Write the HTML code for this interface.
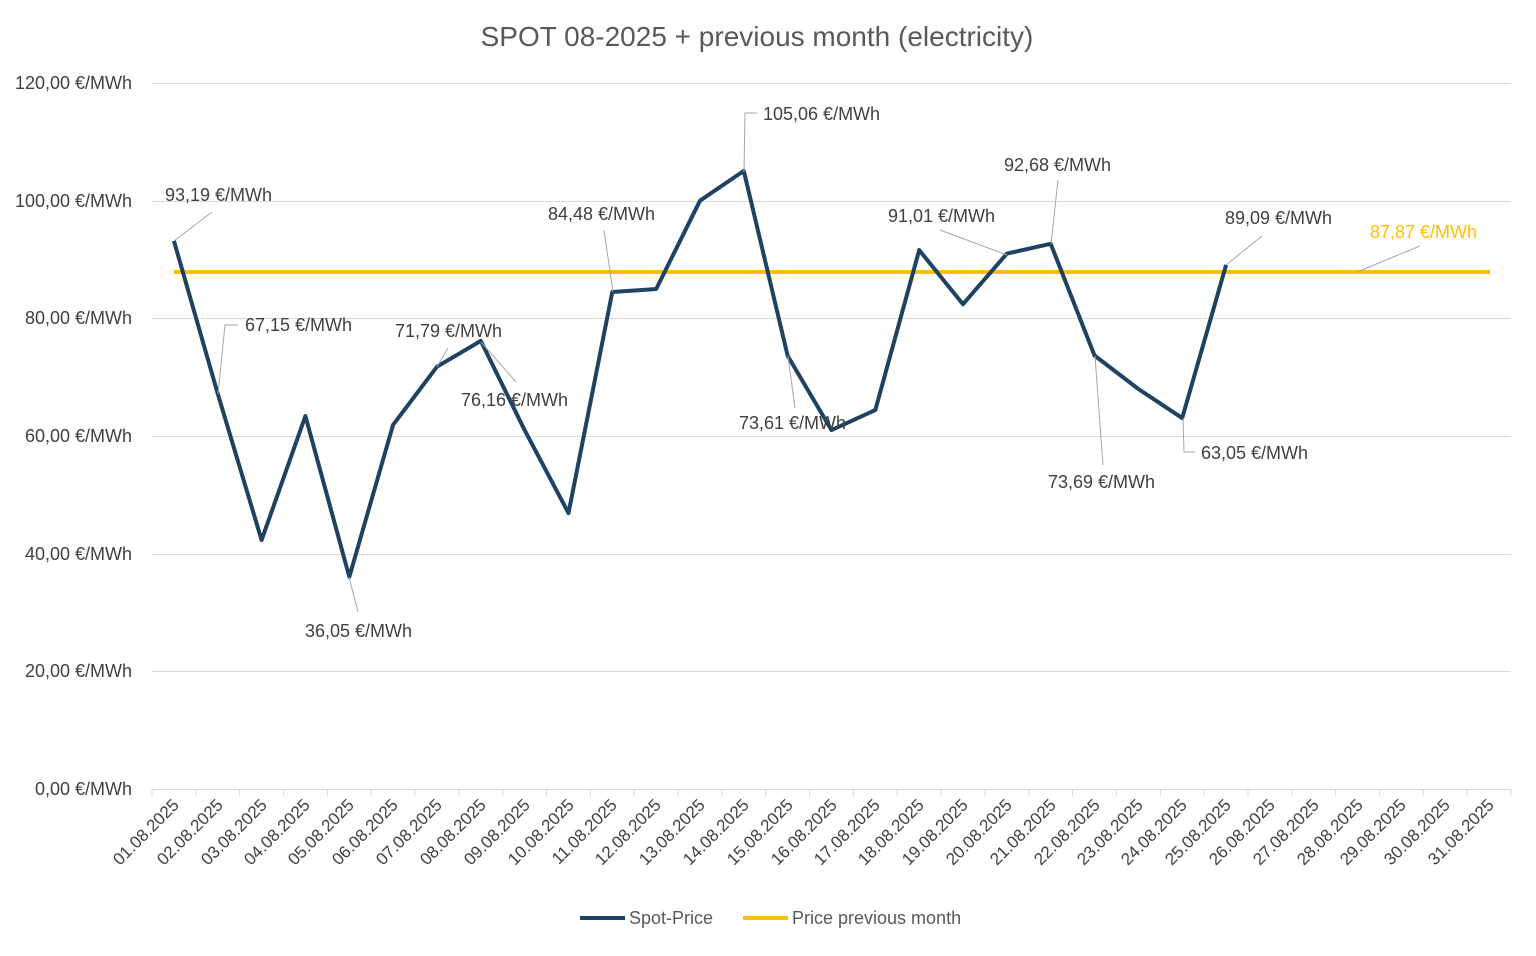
<!DOCTYPE html>
<html><head><meta charset="utf-8"><style>
body{margin:0;background:#fff;}
text{font-family:"Liberation Sans",sans-serif;fill:#404040;}
</style></head><body>
<svg width="1536" height="951" viewBox="0 0 1536 951" xmlns="http://www.w3.org/2000/svg">
<rect width="1536" height="951" fill="#fff"/>
<text x="757" y="46" font-size="28" text-anchor="middle" style="fill:#595959">SPOT 08-2025 + previous month (electricity)</text>
<g stroke="#d9d9d9" stroke-width="1">
<line x1="152" y1="83.5" x2="1511" y2="83.5"/>
<line x1="152" y1="201.5" x2="1511" y2="201.5"/>
<line x1="152" y1="318.5" x2="1511" y2="318.5"/>
<line x1="152" y1="436.5" x2="1511" y2="436.5"/>
<line x1="152" y1="554.5" x2="1511" y2="554.5"/>
<line x1="152" y1="671.5" x2="1511" y2="671.5"/>
<line x1="152" y1="789.5" x2="1511" y2="789.5"/>
</g>
<g font-size="18" text-anchor="end" style="fill:#595959">
<text x="132" y="89">120,00 €/MWh</text>
<text x="132" y="207">100,00 €/MWh</text>
<text x="132" y="324">80,00 €/MWh</text>
<text x="132" y="442">60,00 €/MWh</text>
<text x="132" y="560">40,00 €/MWh</text>
<text x="132" y="677">20,00 €/MWh</text>
<text x="132" y="795">0,00 €/MWh</text>
</g>
<path stroke="#d9d9d9" d="M152,789v7M195.8,789v7M239.7,789v7M283.5,789v7M327.4,789v7M371.2,789v7M415,789v7M458.9,789v7M502.7,789v7M546.6,789v7M590.4,789v7M634.2,789v7M678.1,789v7M721.9,789v7M765.7,789v7M809.6,789v7M853.4,789v7M897.3,789v7M941.1,789v7M984.9,789v7M1028.8,789v7M1072.6,789v7M1116.5,789v7M1160.3,789v7M1204.1,789v7M1248,789v7M1291.8,789v7M1335.7,789v7M1379.5,789v7M1423.3,789v7M1467.2,789v7M1511,789v7"/>
<g font-size="17" text-anchor="end" style="fill:#595959">
<text transform="translate(180,806) rotate(-45)">01.08.2025</text>
<text transform="translate(224,806) rotate(-45)">02.08.2025</text>
<text transform="translate(268,806) rotate(-45)">03.08.2025</text>
<text transform="translate(311,806) rotate(-45)">04.08.2025</text>
<text transform="translate(355,806) rotate(-45)">05.08.2025</text>
<text transform="translate(399,806) rotate(-45)">06.08.2025</text>
<text transform="translate(443,806) rotate(-45)">07.08.2025</text>
<text transform="translate(487,806) rotate(-45)">08.08.2025</text>
<text transform="translate(531,806) rotate(-45)">09.08.2025</text>
<text transform="translate(575,806) rotate(-45)">10.08.2025</text>
<text transform="translate(618,806) rotate(-45)">11.08.2025</text>
<text transform="translate(662,806) rotate(-45)">12.08.2025</text>
<text transform="translate(706,806) rotate(-45)">13.08.2025</text>
<text transform="translate(750,806) rotate(-45)">14.08.2025</text>
<text transform="translate(794,806) rotate(-45)">15.08.2025</text>
<text transform="translate(838,806) rotate(-45)">16.08.2025</text>
<text transform="translate(881,806) rotate(-45)">17.08.2025</text>
<text transform="translate(925,806) rotate(-45)">18.08.2025</text>
<text transform="translate(969,806) rotate(-45)">19.08.2025</text>
<text transform="translate(1013,806) rotate(-45)">20.08.2025</text>
<text transform="translate(1057,806) rotate(-45)">21.08.2025</text>
<text transform="translate(1101,806) rotate(-45)">22.08.2025</text>
<text transform="translate(1144,806) rotate(-45)">23.08.2025</text>
<text transform="translate(1188,806) rotate(-45)">24.08.2025</text>
<text transform="translate(1232,806) rotate(-45)">25.08.2025</text>
<text transform="translate(1276,806) rotate(-45)">26.08.2025</text>
<text transform="translate(1320,806) rotate(-45)">27.08.2025</text>
<text transform="translate(1364,806) rotate(-45)">28.08.2025</text>
<text transform="translate(1407,806) rotate(-45)">29.08.2025</text>
<text transform="translate(1451,806) rotate(-45)">30.08.2025</text>
<text transform="translate(1495,806) rotate(-45)">31.08.2025</text>
</g>
<polyline fill="none" stroke="#ffc000" stroke-width="4" points="174,272 1490,272"/>
<polyline fill="none" stroke="#1d4262" stroke-width="4" stroke-linejoin="round" points="173.9,240.8 217.8,393.9 261.6,540.1 305.4,416 349.3,576.9 393.1,424.8 437,366.7 480.8,340.9 524.6,430.1 568.5,513.1 612.3,292 656.2,289 700,200.7 743.8,170.9 787.7,355.9 831.5,430.1 875.3,410.1 919.2,250.1 963,304.2 1006.9,253.6 1050.7,243.8 1094.5,355.5 1138.4,389 1182.2,418.1 1226.1,264.9"/>
<g stroke="#a6a6a6" stroke-width="1" fill="none">
<polyline points="174,241 212,212"/>
<polyline points="218,394 225,325 238,325"/>
<polyline points="349,577 358,612"/>
<polyline points="437,367 448,348"/>
<polyline points="481,342 516,382"/>
<polyline points="613,292 604,230"/>
<polyline points="744,172 745,113 757,113"/>
<polyline points="788,356 795,408"/>
<polyline points="1007,255 940,230"/>
<polyline points="1051,244 1058,180"/>
<polyline points="1095,356 1103,465"/>
<polyline points="1183,418 1184,452 1195,452"/>
<polyline points="1226,265 1262,236"/>
<polyline points="1357,272 1420,246"/>
</g>
<g font-size="18">
<text x="165" y="201">93,19 €/MWh</text>
<text x="245" y="331">67,15 €/MWh</text>
<text x="305" y="637">36,05 €/MWh</text>
<text x="395" y="337">71,79 €/MWh</text>
<text x="461" y="406">76,16 €/MWh</text>
<text x="548" y="220">84,48 €/MWh</text>
<text x="763" y="120">105,06 €/MWh</text>
<text x="739" y="429">73,61 €/MWh</text>
<text x="888" y="222">91,01 €/MWh</text>
<text x="1004" y="171">92,68 €/MWh</text>
<text x="1048" y="488">73,69 €/MWh</text>
<text x="1201" y="459">63,05 €/MWh</text>
<text x="1225" y="224">89,09 €/MWh</text>
<text x="1370" y="238" style="fill:#ffc000">87,87 €/MWh</text>
</g>
<line x1="580" y1="918" x2="625" y2="918" stroke="#1d4262" stroke-width="4"/>
<text x="629" y="924" font-size="18" style="fill:#595959">Spot-Price</text>
<line x1="743" y1="918" x2="788" y2="918" stroke="#ffc000" stroke-width="4"/>
<text x="792" y="924" font-size="18" style="fill:#595959">Price previous month</text>
</svg>
</body></html>
